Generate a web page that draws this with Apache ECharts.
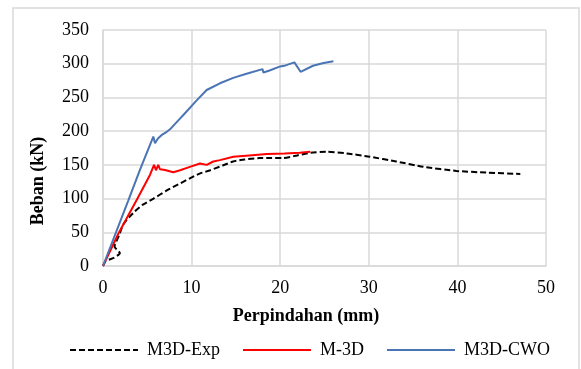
<!DOCTYPE html>
<html>
<head>
<meta charset="utf-8">
<script src="https://cdn.jsdelivr.net/npm/echarts@6/dist/echarts.min.js"></script>
<style>html,body{margin:0;padding:0;background:#fff}#c{width:581px;height:369px}</style>
</head>
<body>
<div id="c"></div>
<script>
var seriesNames = ['M3D-Exp', 'M-3D', 'M3D-CWO'];
var xTicks = [0, 10, 20, 30, 40, 50];
var yTicks = [0, 50, 100, 150, 200, 250, 300, 350];
var xTitle = 'Perpindahan (mm)';
var yTitle = 'Beban (kN)';

var expX = [0, 0.3, 1.2, 1.9, 1.3, 1.8, 2.3, 3.0, 3.6, 4.5, 5.7, 7.2, 8.5, 9.8, 10.9, 12.1, 13.5, 14.7, 16.0, 17.7, 19.0, 20.3, 21.9, 23.4, 25.2, 27.5, 30.1, 33.1, 36.2, 39.9, 43.3, 47.1];
var expY = [0, 7, 12, 19, 29, 45, 62, 73, 81, 91, 100, 112, 121, 130, 137, 142, 149, 155, 158, 160, 160, 160, 164, 168, 169.5, 167, 162, 155, 147, 141, 138.5, 136.5];

var m3dX = [0, 1.77, 3.8, 5.3, 5.76, 5.98, 6.24, 6.43, 7.0, 7.93, 8.7, 9.8, 10.95, 11.7, 12.45, 13.2, 14.7, 16.5, 18.5, 20.5, 22.2, 23.4];
var m3dY = [0, 49, 98, 135, 150, 142, 150, 143.5, 142.4, 139, 142, 147, 152, 150, 155, 157, 162, 164, 166, 167, 168, 169.5];

var cwoX = [0, 2.85, 4.18, 5.68, 5.87, 6.2, 6.6, 7.2, 7.56, 8.5, 9.07, 10.6, 11.7, 13.2, 14.7, 16.2, 18.0, 18.1, 18.8, 20.0, 20.6, 21.6, 22.3, 23.7, 24.9, 26.0];
var cwoY = [0, 97, 143, 192, 182, 189, 194, 199, 202.7, 216, 224, 246, 261, 271, 279, 285, 292, 287, 290, 296, 297.5, 302, 288, 297, 301, 303.5];

function pairs(xs, ys) { return xs.map(function (x, i) { return [x, ys[i]]; }); }

var FONT = '"Liberation Serif", "Times New Roman", serif';
var chart = echarts.init(document.getElementById('c'), null, { renderer: 'canvas' });
chart.setOption({
  backgroundColor: '#ffffff',
  animation: false,
  grid: { left: 103, right: 35, top: 30, bottom: 103, containLabel: false },
  xAxis: {
    type: 'value', min: xTicks[0], max: xTicks[xTicks.length - 1], interval: 10,
    axisLine: { show: true, lineStyle: { color: '#d9d9d9', width: 1.5 } },
    axisTick: { show: false },
    axisLabel: { color: '#000', fontFamily: FONT, fontSize: 18, margin: 13 },
    splitLine: { show: true, lineStyle: { color: '#d9d9d9', width: 1.5 } }
  },
  yAxis: {
    type: 'value', min: yTicks[0], max: yTicks[yTicks.length - 1], interval: 50,
    axisLine: { show: true, lineStyle: { color: '#d9d9d9', width: 1.5 } },
    axisTick: { show: false },
    axisLabel: { color: '#000', fontFamily: FONT, fontSize: 18, margin: 14 },
    splitLine: { show: true, lineStyle: { color: '#d9d9d9', width: 1.5 } }
  },
  legend: {
    left: 64, top: 336, itemWidth: 68, itemHeight: 18, itemGap: 22,
    itemStyle: { opacity: 0 },
    lineStyle: { opacity: 1 },
    textStyle: { color: '#000', fontFamily: FONT, fontSize: 18, padding: [0, 0, 0, 4] },
    data: seriesNames
  },
  series: [
    { name: seriesNames[0], type: 'line', data: pairs(expX, expY), symbol: 'none', smooth: 0.2,
      lineStyle: { color: '#000', width: 2, type: [6, 3] }, itemStyle: { color: '#000' }, z: 3 },
    { name: seriesNames[1], type: 'line', data: pairs(m3dX, m3dY), symbol: 'none',
      lineStyle: { color: '#ff0000', width: 2 }, itemStyle: { color: '#ff0000' }, z: 4 },
    { name: seriesNames[2], type: 'line', data: pairs(cwoX, cwoY), symbol: 'none',
      lineStyle: { color: '#4a74b4', width: 2 }, itemStyle: { color: '#4a74b4' }, z: 5 }
  ],
  graphic: [
    { type: 'rect', shape: { x: 13, y: 8, width: 566, height: 420 }, style: { fill: 'none', stroke: '#d9d9d9', lineWidth: 1.5 }, silent: true },
    { type: 'text', x: 38, y: 181, rotation: Math.PI / 2,
      style: { text: yTitle, font: 'bold 18px ' + FONT, fill: '#000', textAlign: 'center', textVerticalAlign: 'middle' } },
    { type: 'text', x: 306, y: 316,
      style: { text: xTitle, font: 'bold 18px ' + FONT, fill: '#000', textAlign: 'center', textVerticalAlign: 'middle' } }
  ]
});
</script>
</body>
</html>
